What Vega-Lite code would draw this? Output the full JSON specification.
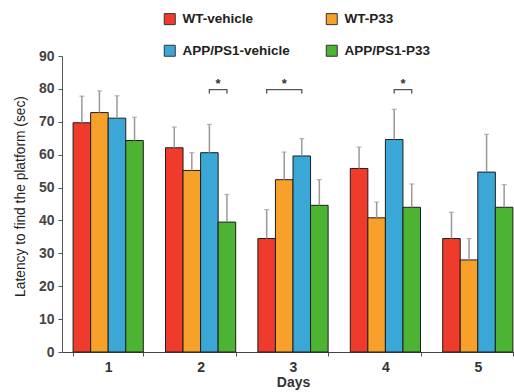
{
  "$schema": "https://vega.github.io/schema/vega-lite/v6.json",
  "autosize": {"type": "none"},
  "padding": {"left": 62, "top": 56, "right": 0, "bottom": 40},
  "width": 452,
  "height": 296,
  "background": "white",
  "config": {
    "view": {"stroke": null},
    "font": "Liberation Sans",
    "axisY": {
      "grid": false,
      "tickSize": 4,
      "tickColor": "#555",
      "domainColor": "#555",
      "labelFont": "Liberation Sans",
      "labelFontSize": 14,
      "labelFontWeight": "bold",
      "labelColor": "#444",
      "labelPadding": 4,
      "titleFont": "Liberation Sans",
      "titleFontSize": 13.8,
      "titleFontWeight": "normal",
      "titleColor": "#222",
      "titlePadding": 11,
      "titleY": 140
    }
  },
  "datasets": {
    "bars": [
      {"Day": "1", "group": "WT-vehicle", "mean": 69.7, "upper": 77.8},
      {"Day": "1", "group": "WT-P33", "mean": 72.8, "upper": 79.4},
      {"Day": "1", "group": "APP/PS1-vehicle", "mean": 71.1, "upper": 77.9},
      {"Day": "1", "group": "APP/PS1-P33", "mean": 64.3, "upper": 71.4},
      {"Day": "2", "group": "WT-vehicle", "mean": 62.1, "upper": 68.4},
      {"Day": "2", "group": "WT-P33", "mean": 55.2, "upper": 60.6},
      {"Day": "2", "group": "APP/PS1-vehicle", "mean": 60.6, "upper": 69.2},
      {"Day": "2", "group": "APP/PS1-P33", "mean": 39.5, "upper": 47.9},
      {"Day": "3", "group": "WT-vehicle", "mean": 34.5, "upper": 43.3},
      {"Day": "3", "group": "WT-P33", "mean": 52.4, "upper": 60.8},
      {"Day": "3", "group": "APP/PS1-vehicle", "mean": 59.6, "upper": 64.9},
      {"Day": "3", "group": "APP/PS1-P33", "mean": 44.6, "upper": 52.4},
      {"Day": "4", "group": "WT-vehicle", "mean": 55.8, "upper": 62.3},
      {"Day": "4", "group": "WT-P33", "mean": 40.8, "upper": 45.6},
      {"Day": "4", "group": "APP/PS1-vehicle", "mean": 64.6, "upper": 73.8},
      {"Day": "4", "group": "APP/PS1-P33", "mean": 44.0, "upper": 51.1},
      {"Day": "5", "group": "WT-vehicle", "mean": 34.5, "upper": 42.5},
      {"Day": "5", "group": "WT-P33", "mean": 28.0, "upper": 34.5},
      {"Day": "5", "group": "APP/PS1-vehicle", "mean": 54.7, "upper": 66.2},
      {"Day": "5", "group": "APP/PS1-P33", "mean": 44.0, "upper": 50.9}
    ],
    "brackets": [
      {"Day": "2", "pos": "b", "y": 78.6, "id": "d2", "k": 0},
      {"Day": "2", "pos": "b", "y": 79.8, "id": "d2", "k": 1},
      {"Day": "2", "pos": "g", "y": 79.8, "id": "d2", "k": 2},
      {"Day": "2", "pos": "g", "y": 78.6, "id": "d2", "k": 3},
      {"Day": "3", "pos": "r", "y": 78.6, "id": "d3", "k": 0},
      {"Day": "3", "pos": "r", "y": 79.8, "id": "d3", "k": 1},
      {"Day": "3", "pos": "b", "y": 79.8, "id": "d3", "k": 2},
      {"Day": "3", "pos": "b", "y": 78.6, "id": "d3", "k": 3},
      {"Day": "4", "pos": "b", "y": 78.6, "id": "d4", "k": 0},
      {"Day": "4", "pos": "b", "y": 79.8, "id": "d4", "k": 1},
      {"Day": "4", "pos": "g", "y": 79.8, "id": "d4", "k": 2},
      {"Day": "4", "pos": "g", "y": 78.6, "id": "d4", "k": 3}
    ],
    "stars": [
      {"Day": "2", "pos": "bg", "y": 81.6, "t": "*"},
      {"Day": "3", "pos": "o", "y": 81.6, "t": "*"},
      {"Day": "4", "pos": "bg", "y": 81.6, "t": "*"}
    ]
  },
  "encoding": {
    "x": {
      "field": "Day",
      "type": "nominal",
      "scale": {"range": [0, 462], "paddingInner": 0.24, "paddingOuter": 0.12},
      "axis": {
        "title": "Days",
        "labelAngle": 0,
        "tickBand": "extent",
        "tickSize": 4,
        "tickColor": "#555",
        "domainColor": "#444",
        "labelFont": "Liberation Sans",
        "labelFontSize": 14,
        "labelFontWeight": "bold",
        "labelColor": "#333",
        "labelPadding": 4,
        "titleFont": "Liberation Sans",
        "titleFontSize": 14,
        "titleFontWeight": "bold",
        "titleColor": "#333",
        "titlePadding": 1
      }
    }
  },
  "layer": [
    {
      "data": {"name": "bars"},
      "mark": {"type": "bar", "stroke": "#1e1e1e", "strokeWidth": 1},
      "encoding": {
        "xOffset": {"field": "group", "type": "nominal", "sort": ["WT-vehicle", "WT-P33", "APP/PS1-vehicle", "APP/PS1-P33"], "scale": {"paddingInner": 0, "paddingOuter": 0}},
        "y": {
          "field": "mean",
          "type": "quantitative",
          "scale": {"domain": [0, 90]},
          "axis": {
            "title": "Latency to find the platform (sec)",
            "values": [0, 10, 20, 30, 40, 50, 60, 70, 80, 90]
          }
        },
        "color": {
          "field": "group",
          "type": "nominal",
          "scale": {
            "domain": ["WT-vehicle", "APP/PS1-vehicle", "WT-P33", "APP/PS1-P33"],
            "range": ["#EE3B2B", "#3BA7D6", "#F7A12A", "#4DB332"]
          },
          "legend": {
            "title": null,
            "orient": "none",
            "legendX": 101,
            "legendY": -44,
            "columns": 2,
            "columnPadding": 34,
            "rowPadding": 16,
            "symbolType": "square",
            "symbolSize": 121,
            "symbolStrokeColor": "#333",
            "symbolStrokeWidth": 1,
            "labelFont": "Liberation Sans",
            "labelFontSize": 13.5,
            "labelFontWeight": "bold",
            "labelColor": "#222",
            "labelOffset": 6
          }
        }
      }
    },
    {
      "data": {"name": "bars"},
      "mark": {"type": "rule", "color": "#999", "strokeWidth": 1.5},
      "encoding": {
        "xOffset": {"field": "group", "type": "nominal", "sort": ["WT-vehicle", "WT-P33", "APP/PS1-vehicle", "APP/PS1-P33"]},
        "y": {"field": "mean", "type": "quantitative", "axis": {"title": "Latency to find the platform (sec)", "values": [0, 10, 20, 30, 40, 50, 60, 70, 80, 90]}},
        "y2": {"field": "upper"}
      }
    },
    {
      "data": {"name": "bars"},
      "mark": {"type": "tick", "color": "#999", "thickness": 1.2, "size": 5, "orient": "horizontal"},
      "encoding": {
        "xOffset": {"field": "group", "type": "nominal", "sort": ["WT-vehicle", "WT-P33", "APP/PS1-vehicle", "APP/PS1-P33"]},
        "y": {"field": "upper", "type": "quantitative", "axis": {"title": "Latency to find the platform (sec)", "values": [0, 10, 20, 30, 40, 50, 60, 70, 80, 90]}}
      }
    },
    {
      "data": {"name": "brackets"},
      "mark": {"type": "line", "color": "#555", "strokeWidth": 1.3},
      "encoding": {
        "xOffset": {"field": "pos", "type": "nominal", "scale": {"type": "point", "domain": ["r", "ro", "o", "ob", "b", "bg", "g"], "padding": 1}},
        "y": {"field": "y", "type": "quantitative", "axis": {"title": "Latency to find the platform (sec)", "values": [0, 10, 20, 30, 40, 50, 60, 70, 80, 90]}},
        "detail": {"field": "id"},
        "order": {"field": "k"}
      }
    },
    {
      "data": {"name": "stars"},
      "mark": {"type": "text", "fontSize": 13, "fontWeight": "bold", "color": "#333", "baseline": "middle"},
      "encoding": {
        "xOffset": {"field": "pos", "type": "nominal", "scale": {"type": "point", "domain": ["r", "ro", "o", "ob", "b", "bg", "g"], "padding": 1}},
        "y": {"field": "y", "type": "quantitative", "axis": {"title": "Latency to find the platform (sec)", "values": [0, 10, 20, 30, 40, 50, 60, 70, 80, 90]}},
        "text": {"field": "t"}
      }
    }
  ],
  "resolve": {"scale": {"xOffset": "independent"}}
}
